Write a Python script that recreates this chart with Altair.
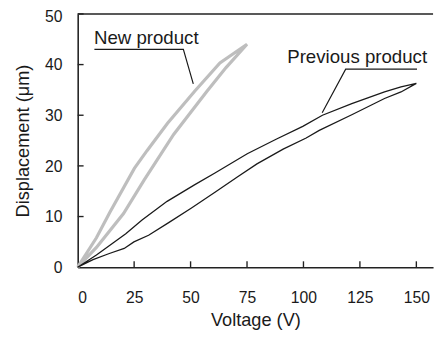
import altair as alt
import pandas as pd

# ---- data ----
new_up_v = [0, 8.3, 14.2, 25.1, 30.7, 39.8, 51.9, 63.0, 75.0]
new_up_d = [0, 5.8, 10.8, 19.5, 23.0, 28.4, 34.8, 40.3, 44.0]
new_lo_v = [0, 8.3, 20.3, 29.4, 42.5, 57.0, 65.7, 75.0]
new_lo_d = [0, 3.9, 10.6, 17.2, 26.2, 34.6, 39.4, 44.0]

prev_up_v = [0, 8.3, 21.3, 28.5, 39.6, 51.9, 60.8, 75.1, 88.1, 99.7, 108.4, 121.4, 135.9, 143.2, 150]
prev_up_d = [0, 2.4, 6.6, 9.3, 13.0, 16.3, 18.6, 22.4, 25.3, 27.8, 30.0, 32.3, 34.6, 35.6, 36.3]
prev_lo_v = [0, 6.8, 14.0, 20.6, 24.9, 31.4, 40.3, 50.4, 60.8, 70.7, 79.4, 91.0, 101.2, 107.0, 121.4, 135.9, 143.2, 150]
prev_lo_d = [0, 1.5, 2.7, 3.7, 5.0, 6.3, 8.8, 11.7, 14.8, 17.8, 20.4, 23.3, 25.5, 27.0, 30.1, 33.3, 34.6, 36.3]

labels = ["New product", "Previous product"]
label_v = [7.2, 92.8]
label_d = [44.1, 40.3]

leader_group = ["new", "new", "new", "prev", "prev", "prev"]
leader_v = [7.4, 46.8, 51.2, 150.3, 118.7, 108.3]
leader_d = [43.0, 43.0, 36.2, 39.1, 39.1, 30.5]

x_ticks = [25, 50, 75, 100, 125, 150]
y_ticks = [10, 20, 30, 40, 50]
x_max = 157.4
y_max = 50

W, H = 362, 258
FONT = "Liberation Sans"


def loop(lo_v, lo_d, up_v, up_d, name):
    rows = []
    k = 0
    for v, d in zip(lo_v, lo_d):
        rows.append({"V": v, "D": d, "s": name, "o": k}); k += 1
    for v, d in list(zip(up_v, up_d))[::-1][1:]:
        rows.append({"V": v, "D": d, "s": name, "o": k}); k += 1
    return rows


new_df = pd.DataFrame(loop(new_lo_v, new_lo_d, new_up_v, new_up_d, "new"))
prev_df = pd.DataFrame(loop(prev_lo_v, prev_lo_d, prev_up_v, prev_up_d, "prev"))
lab_df = pd.DataFrame({"t": labels, "V": label_v, "D": label_d})
lead_df = pd.DataFrame({"g": leader_group, "V": leader_v, "D": leader_d,
                        "o": list(range(len(leader_v)))})
xt_df = pd.DataFrame({"V": x_ticks})
yt_df = pd.DataFrame({"D": y_ticks})

xs = alt.Scale(domain=[0, x_max], nice=False)
ys = alt.Scale(domain=[0, y_max], nice=False)

x_axis = alt.Axis(values=[0] + x_ticks, title="Voltage (V)", grid=False, ticks=False,
                  tickSize=0, labelPadding=23, titleY=59, titleBaseline="alphabetic")
y_axis = alt.Axis(values=[0] + y_ticks, title="Displacement (μm)", grid=False, ticks=False,
                  tickSize=0, labelPadding=16, titleX=-50, titleY=H / 2,
                  titleBaseline="alphabetic",
                  labelOffset={"condition": {"test": "datum.value === 50", "value": 3},
                               "value": 0.5})

base_x = alt.X("V:Q", scale=xs, axis=x_axis)
base_y = alt.Y("D:Q", scale=ys, axis=y_axis)

new_line = alt.Chart(new_df).mark_line(color="#bebebe", strokeWidth=3.2).encode(
    x=base_x, y=base_y, order="o:Q")
prev_line = alt.Chart(prev_df).mark_line(color="#1a1a1a", strokeWidth=1.3).encode(
    x="V:Q", y="D:Q", order="o:Q")

leaders = alt.Chart(lead_df).mark_line(color="#1a1a1a", strokeWidth=1.2).encode(
    x="V:Q", y="D:Q", detail="g:N", order="o:Q")

texts = alt.Chart(lab_df).mark_text(align="left", baseline="alphabetic", font=FONT,
                                     fontSize=19, color="#1a1a1a").encode(
    x="V:Q", y="D:Q", text="t:N")

xticks = alt.Chart(xt_df).mark_rule(color="#222222", strokeWidth=1.4).encode(
    x="V:Q", y=alt.value(H), y2=alt.value(H - 6))
yticks = alt.Chart(yt_df).mark_rule(color="#222222", strokeWidth=1.4).encode(
    y="D:Q", x=alt.value(0), x2=alt.value(6))

top_line = alt.Chart(pd.DataFrame({"a": [0]})).mark_rule(color="#222222", strokeWidth=1.6).encode(
    y=alt.datum(y_max), x=alt.datum(0), x2=alt.datum(x_max))

chart = alt.layer(new_line, prev_line, leaders, texts, xticks, yticks, top_line).properties(
    width=W, height=H,
    autosize=alt.AutoSizeParams(type="none"),
    padding={"left": 71, "top": 3, "right": 3, "bottom": 64},
).configure_view(stroke=None).configure_axis(
    labelFont=FONT, labelFontSize=16, labelColor="#1a1a1a",
    titleFont=FONT, titleFontSize=18.5, titleFontWeight="normal", titleColor="#1a1a1a",
    domainColor="#222222", domainWidth=1.6,
)

chart.save("out.html", embed_options={"renderer": "svg", "actions": False})
